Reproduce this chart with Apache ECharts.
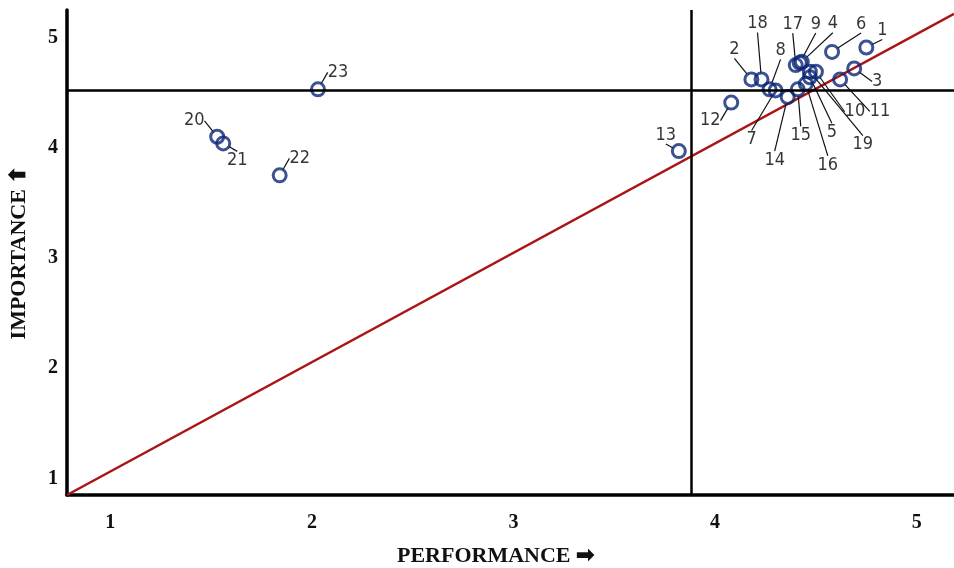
<!DOCTYPE html>
<html>
<head>
<meta charset="utf-8">
<title>Importance–Performance Analysis</title>
<script src="https://cdn.jsdelivr.net/npm/echarts@6/dist/echarts.min.js"></script>
<style>
  html, body { margin: 0; padding: 0; background: #fff; }
  #chart { width: 954px; height: 568px; }
</style>
</head>
<body>
<div id="chart"></div>
<script>
// Attribute ids and their mean scores
const itemIds = ['1','2','3','4','5','6','7','8','9','10','11','12','13','14','15','16','17','18','19','20','21','22','23'];
const performance = [4.75, 4.18, 4.69, 4.43, 4.47, 4.58, 4.30, 4.27, 4.42, 4.50, 4.62, 4.08, 3.82, 4.36, 4.41, 4.45, 4.40, 4.23, 4.47, 1.53, 1.56, 1.84, 2.03];
const importance  = [4.91, 4.62, 4.72, 4.78, 4.64, 4.87, 4.52, 4.53, 4.77, 4.69, 4.62, 4.41, 3.97, 4.46, 4.53, 4.58, 4.75, 4.62, 4.69, 4.10, 4.04, 3.75, 4.53];

// Grand means used as quadrant dividers
const meanPerformance = 3.875;
const meanImportance = 4.516;

// Iso-rating diagonal (importance equals performance)
const diagonalX = [0.785, 5.185];
const diagonalY = [0.85, 5.215];

const tickValues = [1, 2, 3, 4, 5];

// Label offsets (px) from each marker, so the crowded cluster stays readable
const labelOffsets = [
  [16, -17], [-17, -30], [23, 13], [31, -38], [22, 55], [29, -28], [-24, 49],
  [11, -39], [16, -39], [39, 40], [40, 32], [-21, 18], [-13, -16], [-13, 63],
  [3, 46], [22, 81], [-3, -41], [-4, -56], [53, 73], [-23, -16], [14, 17],
  [20, -17], [20, -17]
];

const points = performance.map((p, i) => [p, importance[i], itemIds[i]]);
const diagonal = diagonalX.map((x, i) => [x, diagonalY[i]]);

const chart = echarts.init(document.getElementById('chart'), null, { renderer: 'canvas' });

const axisFont = 'Liberation Serif, Times New Roman, serif';

chart.setOption({
  animation: false,
  backgroundColor: '#ffffff',
  grid: { left: 67, top: 10, right: 0, bottom: 73, containLabel: false, outerBoundsMode: 'none' },
  xAxis: {
    type: 'value',
    min: 0.785,
    max: 5.185,
    name: 'PERFORMANCE \u27A1',
    nameLocation: 'middle',
    nameGap: 50,
    nameTextStyle: {
      fontFamily: axisFont, fontSize: 22, fontWeight: 'bold', color: '#111',
      padding: [0, 30, 0, 0]
    },
    axisLine: { show: true, onZero: false, lineStyle: { color: '#000', width: 3.5 } },
    axisTick: { show: false },
    splitLine: { show: false },
    axisLabel: {
      customValues: tickValues,
      margin: 18,
      fontFamily: axisFont, fontSize: 20, fontWeight: 'bold', color: '#111'
    }
  },
  yAxis: {
    type: 'value',
    min: 0.85,
    max: 5.25,
    name: 'IMPORTANCE \u2B06',
    nameLocation: 'middle',
    nameGap: 37,
    nameRotate: 90,
    nameTextStyle: {
      fontFamily: axisFont, fontSize: 22, fontWeight: 'bold', color: '#111'
    },
    axisLine: { show: true, onZero: false, lineStyle: { color: '#000', width: 3.5 } },
    axisTick: { show: false },
    splitLine: { show: false },
    axisLabel: {
      customValues: tickValues,
      margin: 9,
      fontFamily: axisFont, fontSize: 20, fontWeight: 'bold', color: '#111'
    }
  },
  series: [
    {
      type: 'line',
      data: diagonal,
      symbol: 'none',
      silent: true,
      lineStyle: { color: '#aa1414', width: 2.5 },
      z: 3
    },
    {
      type: 'scatter',
      data: points,
      symbol: 'circle',
      symbolSize: 13,
      itemStyle: {
        color: 'rgba(0,0,0,0)',
        borderColor: '#0a2576',
        borderWidth: 3
      },
      label: {
        show: true,
        position: 'inside',
        formatter: (p) => p.data[2],
        fontFamily: 'DejaVu Sans Condensed, DejaVu Sans, sans-serif',
        fontSize: 18,
        color: '#000'
      },
      labelLine: {
        show: true,
        lineStyle: { color: '#111', width: 1.2 }
      },
      labelLayout: (params) => {
        const o = labelOffsets[params.dataIndex];
        return { dx: o[0], dy: o[1] };
      },
      markLine: {
        silent: true,
        symbol: 'none',
        label: { show: false },
        lineStyle: { color: '#000', width: 2.5, type: 'solid' },
        data: [
          { xAxis: meanPerformance },
          { yAxis: meanImportance }
        ]
      },
      z: 4
    }
  ]
});
</script>
</body>
</html>
